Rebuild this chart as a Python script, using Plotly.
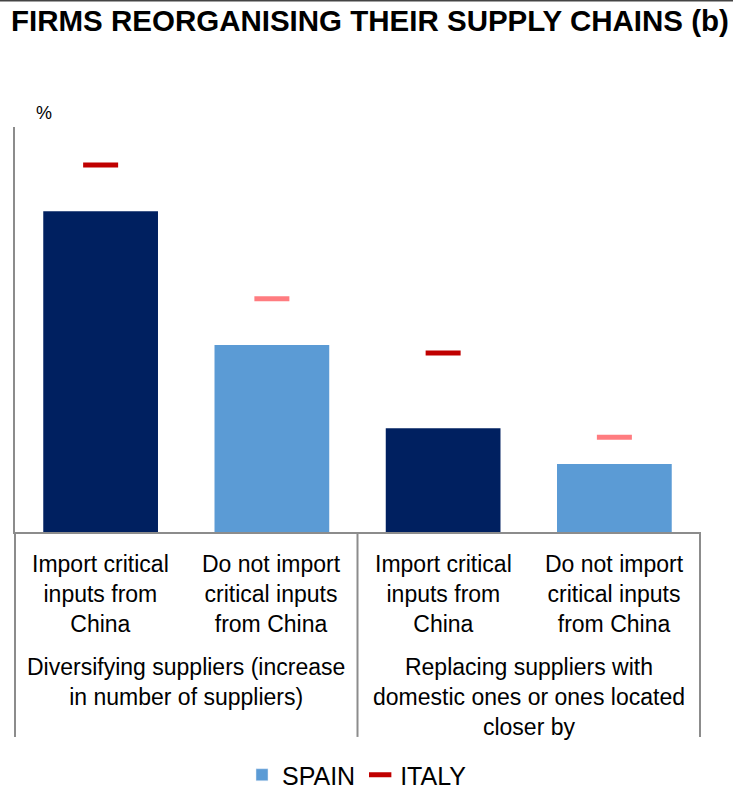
import plotly.graph_objects as go

# ---- data ----
sub_labels = ["Import critical<br>inputs from<br>China",
              "Do not import<br>critical inputs<br>from China",
              "Import critical<br>inputs from<br>China",
              "Do not import<br>critical inputs<br>from China"]
group_labels = ["Diversifying suppliers (increase<br>in number of suppliers)",
                "Replacing suppliers with<br>domestic ones or ones located<br>closer by"]
spain = [39.6, 23.1, 12.8, 8.4]
italy = [45.3, 28.8, 22.1, 11.7]
spain_colors = ["#002060", "#5B9BD5", "#002060", "#5B9BD5"]
italy_colors = ["#C00000", "#FF7C80", "#C00000", "#FF7C80"]

x = list(range(len(spain)))
xmin, xmax = -0.5, len(spain) - 0.5
ymax = 50

fig = go.Figure()
fig.add_trace(go.Bar(x=x, y=spain, marker=dict(color=spain_colors, line=dict(width=0)),
                     width=0.67, showlegend=False, hoverinfo="y"))
fig.add_trace(go.Bar(x=[None], y=[None], name="SPAIN", marker=dict(color="#5B9BD5")))
fig.add_trace(go.Scatter(x=x, y=italy, mode="markers", name="ITALY",
                         marker=dict(symbol="line-ew", size=25,
                                     line=dict(width=5, color=italy_colors))))

def px(v):
    return (v - xmin) / (xmax - xmin)

font = "Liberation Sans, Arial, sans-serif"
ann = []
for i, t in enumerate(sub_labels):
    ann.append(dict(x=i, xref="x", y=-0.043, yref="paper", yanchor="top", text=t,
                    showarrow=False, font=dict(size=23, color="#000", family=font)))
for g, t in enumerate(group_labels):
    ann.append(dict(x=2 * g + 0.5, xref="x", y=-0.297, yref="paper", yanchor="top", text=t,
                    showarrow=False, font=dict(size=23, color="#000", family=font)))
ann.append(dict(x=(34 - 15) / 685, xref="paper", y=1.005, yref="paper", xanchor="left",
                yanchor="bottom", text="%", showarrow=False,
                font=dict(size=18, color="#000", family=font)))

shapes = []
for b in [xmin, 1.5, xmax]:
    shapes.append(dict(type="line", xref="paper", yref="paper", x0=px(b), x1=px(b),
                       y0=0, y1=-0.506, line=dict(color="#8C8C8C", width=2)))
shapes.append(dict(type="line", xref="paper", yref="paper", x0=-15 / 685, x1=718 / 685,
                   y0=1.3123, y1=1.3123, line=dict(color="#444", width=2)))

fig.update_layout(
    width=733, height=798,
    margin=dict(l=15, r=33, t=127, b=266, autoexpand=False),
    paper_bgcolor="white", plot_bgcolor="white",
    barmode="overlay",
    title=dict(text="<b>FIRMS REORGANISING THEIR SUPPLY CHAINS (b)</b>",
               x=11 / 733, xanchor="left", xref="container",
               y=1 - 10 / 798, yanchor="top", yref="container",
               font=dict(size=29.5, color="#000", family="Liberation Sans, Arial")),
    xaxis=dict(range=[xmin, xmax], showticklabels=False, ticks="", showgrid=False,
               zeroline=False, showline=True, linecolor="#8C8C8C", linewidth=2),
    yaxis=dict(range=[0, ymax], showticklabels=False, ticks="", showgrid=False,
               zeroline=False, showline=True, linecolor="#8C8C8C", linewidth=2),
    legend=dict(orientation="h", x=357 / 733, xanchor="center", xref="container",
                y=0, yanchor="bottom", yref="container",
                font=dict(size=25, color="#000", family=font), itemwidth=30,
                tracegroupgap=0),
    annotations=ann, shapes=shapes,
)

fig.write_html("out.html")
